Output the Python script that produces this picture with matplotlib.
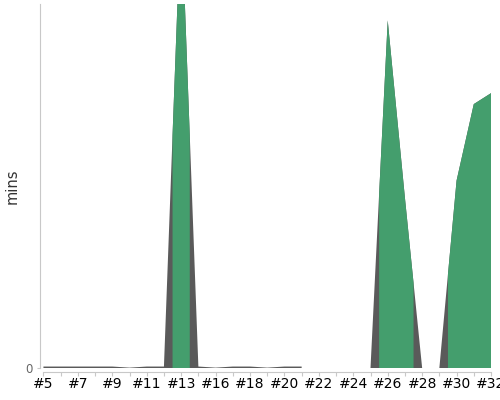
import numpy as np
import matplotlib
matplotlib.use("Agg")
import matplotlib.pyplot as plt

# Build numbers on the x axis
builds = ["#5", "#6", "#7", "#8", "#9", "#10", "#11", "#12", "#13", "#15",
          "#16", "#17", "#18", "#19", "#20", "#21", "#22", "#23", "#24", "#25",
          "#26", "#27", "#28", "#29", "#30", "#31", "#32"]
# Duration in minutes (None = no data)
minutes = [0.08, 0.08, 0.08, 0.08, 0.08, 0.02, 0.08, 0.08, 25.5, 0.08,
           0.02, 0.08, 0.08, 0.02, 0.08, 0.08, None, None, None, 0.0,
           19.1, 9.35, 0.0, 0.0, 10.3, 14.5, 15.1]
# Status of each build: True = success (green), False = other (gray)
success = [False, False, False, False, False, False, False, False, True, False,
           False, False, False, False, False, False, False, False, False, False,
           True, True, False, False, True, True, True]
tick_labels = ["#5", "#7", "#9", "#11", "#13", "#16", "#18", "#20", "#22",
               "#24", "#26", "#28", "#30", "#32"]

GREEN = "#449e6d"
GRAY = "#5a5a5a"
PX = 72 / 100  # points per pixel at dpi 100

vals = np.array([np.nan if v is None else v for v in minutes], dtype=float)
n = len(vals)
x = np.arange(n, dtype=float)

# insert midpoints so colour zones switch half-way between builds
x_ext = np.empty(2 * n - 1)
y_ext = np.empty(2 * n - 1)
x_ext[0::2] = x
y_ext[0::2] = vals
x_ext[1::2] = (x[:-1] + x[1:]) / 2
y_ext[1::2] = (vals[:-1] + vals[1:]) / 2
green_mask = np.zeros(2 * n - 1, dtype=bool)
for i, s in enumerate(success):
    if s:
        green_mask[max(2 * i - 1, 0):min(2 * i + 2, 2 * n - 1)] = True

fig = plt.figure(figsize=(5, 4), dpi=100)
ax = fig.add_axes([0.08, 0.08, 0.902, 0.91])

valid = ~np.isnan(y_ext)
ax.fill_between(x_ext, 0, np.nan_to_num(y_ext), where=valid,
                color=GRAY, linewidth=0)
ax.fill_between(x_ext, 0, np.nan_to_num(y_ext), where=green_mask & valid,
                color=GREEN, linewidth=0)

ax.set_xlim(-0.2, n - 1)
ax.set_ylim(0, 20)

ax.set_xticks(range(n))
ax.set_xticklabels([b if b in tick_labels else "" for b in builds],
                   fontsize=7.3, color="#222222", family="Liberation Sans")
ax.set_yticks([0])
ax.set_yticklabels(["0"], fontsize=8.5, color="#666666")
ax.tick_params(axis="x", length=4 * PX, width=0.8, color="#c8c8c8",
               pad=1 * PX)
ax.tick_params(axis="y", length=3 * PX, width=0.8, color="#c8c8c8",
               pad=4 * PX)
for lbl in ax.get_xticklabels():
    lbl.set_rotation(90)
    lbl.set_rotation_mode("anchor")
    lbl.set_ha("right")
    lbl.set_va("center")

for side in ["top", "right"]:
    ax.spines[side].set_visible(False)
ax.spines["left"].set_color("#c8c8c8")
ax.spines["left"].set_linewidth(0.8)
ax.spines["bottom"].set_color("#c8c8c8")
ax.spines["bottom"].set_linewidth(0.8)
ax.spines["bottom"].set_position(("outward", 4 * PX))
ax.spines["bottom"].set_bounds(0, n - 1)

ax.set_ylabel("mins", fontsize=10.5, color="#333333", labelpad=4)

fig.savefig("out.png", dpi=100)
